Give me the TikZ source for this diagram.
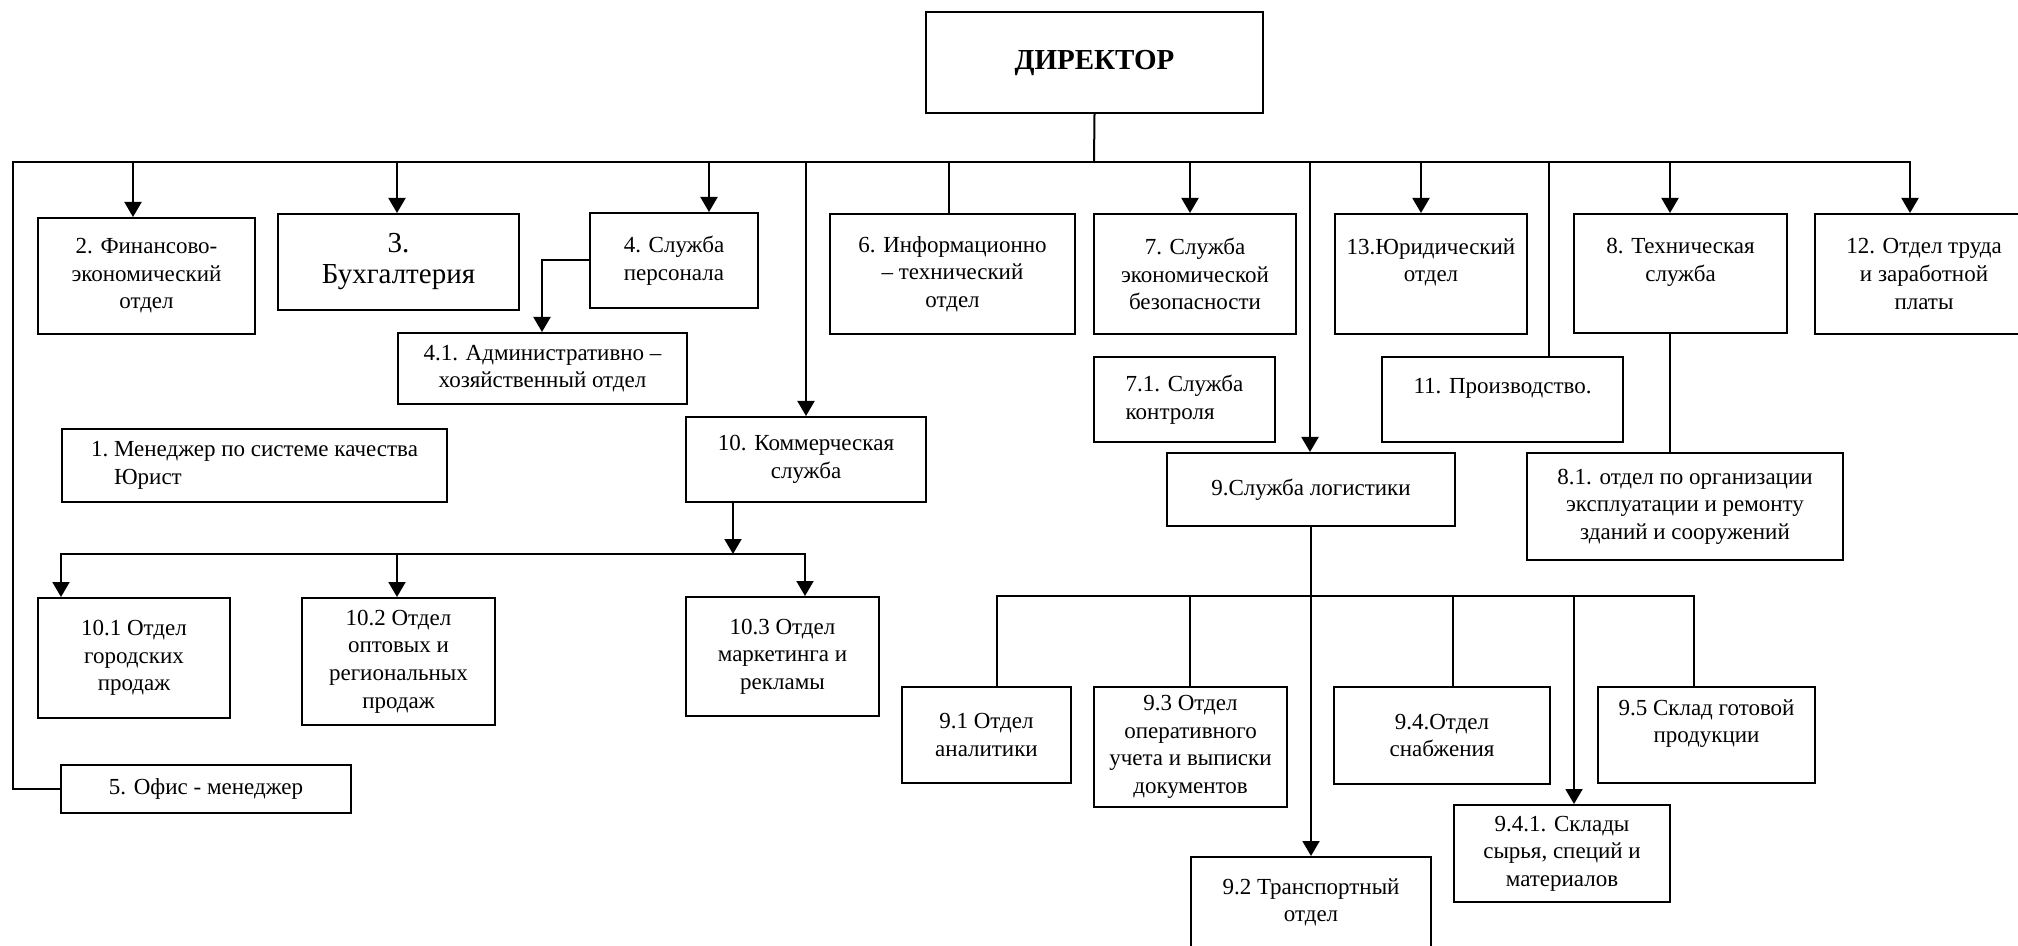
\documentclass[tikz,border=0pt]{standalone}
\usepackage{fontspec}
\setmainfont{Liberation Serif}
\usetikzlibrary{arrows.meta}
\begin{document}
\begin{tikzpicture}[x=.5pt,y=-.5pt,font=\fontsize{11.5}{13.8}\selectfont,
box/.style={draw,line width=1pt,anchor=north west,align=center,inner sep=2pt},
link/.style={line width=1pt,line cap=rect},
linkarr/.style={line width=1pt,-{Triangle[length=7.5pt,width=8.5pt]}},
thinlink/.style={line width=.65pt}]
\useasboundingbox (0,0) rectangle (2018,946);
\node[box,minimum width=168.5pt,minimum height=50.5pt,font=\fontsize{14.5}{17}\selectfont\bfseries] (dir) at (925,11) {ДИРЕКТОР};
\node[box,minimum width=108.5pt,minimum height=58pt] (fin) at (37,217) {2. Финансово-\\экономический\\отдел};
\node[box,minimum width=120.5pt,minimum height=48pt,font=\fontsize{14.5}{15.5}\selectfont] (buh) at (277,213) {3.\\Бухгалтерия};
\node[box,minimum width=84pt,minimum height=47.5pt] (pers) at (589,212) {4. Служба\\персонала};
\node[box,minimum width=144.5pt,minimum height=35.5pt] (adm) at (397,332) {4.1. Административно –\\хозяйственный отдел};
\node[box,minimum width=122.5pt,minimum height=60pt] (info) at (829,213) {6. Информационно\\– технический\\отдел};
\node[box,minimum width=101pt,minimum height=60pt] (sec) at (1093,213) {7. Служба\\экономической\\безопасности};
\node[box,minimum width=90.5pt,minimum height=42.5pt,align=left] (ctrl) at (1093,356) {7.1. Служба\\контроля};
\node[box,minimum width=96pt,minimum height=60pt] (law) at (1334,213) {13.Юридический\\отдел\\~};
\node[box,minimum width=106.5pt,minimum height=59.5pt] (tech) at (1573,213) {8. Техническая\\служба\\~};
\node[box,minimum width=109pt,minimum height=60pt] (wage) at (1814,213) {12. Отдел труда\\и заработной\\платы};
\node[box,minimum width=120.5pt,minimum height=42.5pt] (prod) at (1381,356) {11. Производство.\\~};
\node[box,minimum width=158pt,minimum height=53.5pt] (bld) at (1526,452) {8.1. отдел по организации\\эксплуатации и ремонту\\зданий и сооружений};
\node[box,minimum width=192.5pt,minimum height=36.5pt,align=left] (qual) at (61,428) {1.\ Менеджер по системе качества\\\hphantom{1.\ }Юрист};
\node[box,minimum width=120pt,minimum height=42.5pt] (com) at (685,416) {10. Коммерческая\\служба};
\node[box,minimum width=144pt,minimum height=36.5pt] (log) at (1166,452) {9.Служба логистики};
\node[box,minimum width=96pt,minimum height=60pt] (city) at (37,597) {10.1 Отдел\\городских\\продаж};
\node[box,minimum width=96.5pt,minimum height=63.5pt] (reg) at (301,597) {10.2 Отдел\\оптовых и\\региональных\\продаж};
\node[box,minimum width=96.5pt,minimum height=59.5pt] (mkt) at (685,596) {10.3 Отдел\\маркетинга и\\рекламы};
\node[box,minimum width=145pt,minimum height=24pt] (office) at (60,764) {5. Офис - менеджер};
\node[box,minimum width=84.5pt,minimum height=48pt] (anl) at (901,686) {9.1 Отдел\\аналитики};
\node[box,minimum width=96.5pt,minimum height=60pt] (acc) at (1093,686) {9.3 Отдел\\оперативного\\учета и выписки\\документов};
\node[box,minimum width=108pt,minimum height=48.5pt] (sup) at (1333,686) {9.4.Отдел\\снабжения};
\node[box,minimum width=108.5pt,minimum height=48pt] (ware) at (1597,686) {9.5 Склад готовой\\продукции\\~};
\node[box,minimum width=108pt,minimum height=48.5pt] (raw) at (1453,804) {9.4.1. Склады\\сырья, специй и\\материалов};
\node[box,minimum width=120pt,minimum height=57pt] (trans) at (1190,856) {9.2 Транспортный\\отдел\\~};
\coordinate (bus) at (1094,162);\coordinate (bus10) at (733,554);\coordinate (bus9) at (1310,596);
\draw[link] (dir.south) -- (bus);\draw[link] (bus -| 110,0) -- (bus -| 1910,0);
\draw[thinlink] (bus -| 110,0) -- (bus -| 13,0) |- (office.west);
\foreach \x/\n in {133/fin,397/buh,709/pers,806/com,1190/sec,1310/log,1421/law,1670/tech,1910/wage}{\draw[linkarr] (bus -| \x,0) -- (\n.north -| \x,0);}
\foreach \x/\n in {949/info,1549/prod}{\draw[link] (bus -| \x,0) -- (\n.north -| \x,0);}
\draw[linkarr] (pers.west) -| (adm.north -| 542,0);
\draw[linkarr] (com.south -| bus10) -- (bus10);\draw[link] (bus10 -| 61,0) -- (bus10 -| 805,0);
\foreach \x/\n in {61/city,397/reg,805/mkt}{\draw[linkarr] (bus10 -| \x,0) -- (\n.north -| \x,0);}
\draw[link] (tech.south -| 1670,0) -- (bld.north -| 1670,0);
\draw[linkarr] (log.south) -- (trans.north);\draw[link] (bus9 -| 997,0) -- (bus9 -| 1694,0);
\foreach \x/\n in {997/anl,1190/acc,1453/sup,1694/ware}{\draw[link] (bus9 -| \x,0) -- (\n.north -| \x,0);}
\draw[linkarr] (bus9 -| 1574,0) -- (raw.north -| 1574,0);
\end{tikzpicture}
\end{document}
